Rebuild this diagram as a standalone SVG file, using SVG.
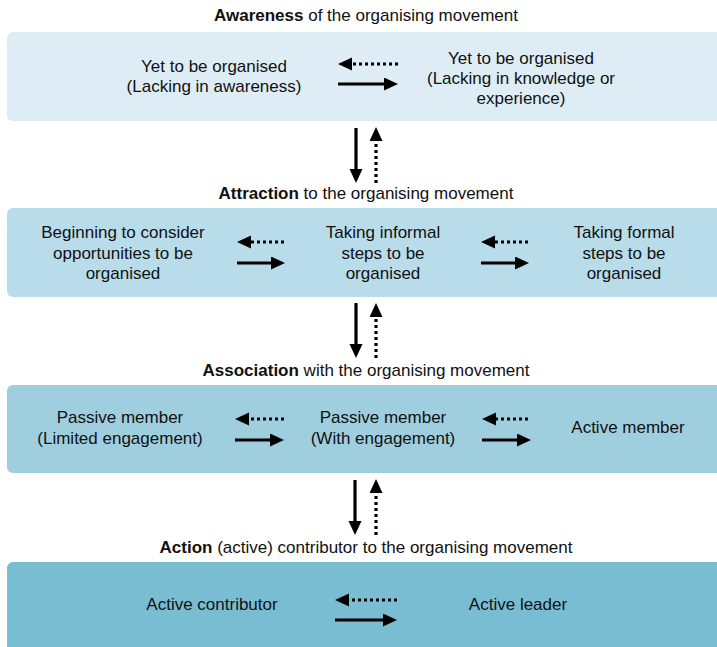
<svg xmlns="http://www.w3.org/2000/svg" width="717" height="647" viewBox="0 0 717 647">
  <style>
    text { font-family: "Liberation Sans", Arial, sans-serif; font-size: 17px; fill: #111; text-anchor: middle; }
    .b { font-weight: bold; }
    .solid { stroke: #000; stroke-width: 3.2; fill: none; marker-end: url(#head); }
    .dot { stroke: #000; stroke-width: 3.2; fill: none; stroke-dasharray: 3 3; marker-end: url(#head); }
  </style>
  <defs>
    <marker id="head" markerUnits="userSpaceOnUse" markerWidth="15" markerHeight="14" refX="0" refY="6.5" orient="auto">
      <path d="M0,0 L14,6.5 L0,13 z" fill="#000"/>
    </marker>
  </defs>

  <rect width="717" height="647" fill="#fff"/>

  <!-- Stage 1: awareness -->
  <g id="stage-awareness">
    <text x="366" y="21"><tspan class="b">Awareness</tspan> of the organising movement</text>
    <rect x="7" y="32" width="730" height="89" rx="6" fill="#deedf5"/>
  </g>
  <g id="node-lacking-awareness">
    <text x="214" y="72">Yet to be organised</text>
    <text x="214" y="92">(Lacking in awareness)</text>
  </g>
  <g id="node-lacking-knowledge">
    <text x="521" y="64">Yet to be organised</text>
    <text x="521" y="84">(Lacking in knowledge or</text>
    <text x="521" y="104">experience)</text>
  </g>

  <!-- Stage 2: attraction -->
  <g id="stage-attraction">
    <text x="366" y="199"><tspan class="b">Attraction</tspan> to the organising movement</text>
    <rect x="7" y="208" width="730" height="89" rx="6" fill="#b8dcea"/>
  </g>
  <g id="node-considering">
    <text x="123" y="238">Beginning to consider</text>
    <text x="123" y="258.5">opportunities to be</text>
    <text x="123" y="279">organised</text>
  </g>
  <g id="node-informal-steps">
    <text x="383" y="238">Taking informal</text>
    <text x="383" y="258.5">steps to be</text>
    <text x="383" y="279">organised</text>
  </g>
  <g id="node-formal-steps">
    <text x="624" y="238">Taking formal</text>
    <text x="624" y="258.5">steps to be</text>
    <text x="624" y="279">organised</text>
  </g>

  <!-- Stage 3: association -->
  <g id="stage-association">
    <text x="366" y="376"><tspan class="b">Association</tspan> with the organising movement</text>
    <rect x="7" y="385" width="730" height="88" rx="6" fill="#9fcfdf"/>
  </g>
  <g id="node-passive-limited">
    <text x="120" y="423">Passive member</text>
    <text x="120" y="444">(Limited engagement)</text>
  </g>
  <g id="node-passive-engaged">
    <text x="383" y="423">Passive member</text>
    <text x="383" y="444">(With engagement)</text>
  </g>
  <g id="node-active-member">
    <text x="628" y="433">Active member</text>
  </g>

  <!-- Stage 4: action -->
  <g id="stage-action">
    <text x="366" y="553"><tspan class="b">Action</tspan> (active) contributor to the organising movement</text>
    <rect x="7" y="562" width="730" height="100" rx="6" fill="#79bdd3"/>
  </g>
  <g id="node-active-contributor">
    <text x="212" y="610">Active contributor</text>
  </g>
  <g id="node-active-leader">
    <text x="518" y="610">Active leader</text>
  </g>

  <!-- Connectors: solid = forward progress, dotted = stepping back -->
  <g id="connectors">
    <!-- stage 1 -->
    <line class="dot" x1="398" y1="64" x2="352" y2="64"/>
    <line class="solid" x1="338" y1="84" x2="384" y2="84"/>
    <!-- stage 1 to 2 -->
    <line class="solid" x1="356" y1="128" x2="356" y2="169"/>
    <line class="dot" x1="376" y1="183" x2="376" y2="141"/>
    <!-- stage 2 -->
    <line class="dot" x1="284" y1="242" x2="251" y2="242"/>
    <line class="solid" x1="237" y1="263" x2="271" y2="263"/>
    <line class="dot" x1="528" y1="242" x2="495" y2="242"/>
    <line class="solid" x1="481" y1="263" x2="515" y2="263"/>
    <!-- stage 2 to 3 -->
    <line class="solid" x1="356" y1="303" x2="356" y2="344"/>
    <line class="dot" x1="376" y1="358" x2="376" y2="317"/>
    <!-- stage 3 -->
    <line class="dot" x1="284" y1="419" x2="249" y2="419"/>
    <line class="solid" x1="235" y1="440" x2="270" y2="440"/>
    <line class="dot" x1="528" y1="419" x2="496" y2="419"/>
    <line class="solid" x1="482" y1="440" x2="517" y2="440"/>
    <!-- stage 3 to 4 -->
    <line class="solid" x1="355" y1="480" x2="355" y2="521"/>
    <line class="dot" x1="376" y1="535" x2="376" y2="493"/>
    <!-- stage 4 -->
    <line class="dot" x1="397" y1="600" x2="349" y2="600"/>
    <line class="solid" x1="335" y1="620" x2="383" y2="620"/>
  </g>
</svg>
